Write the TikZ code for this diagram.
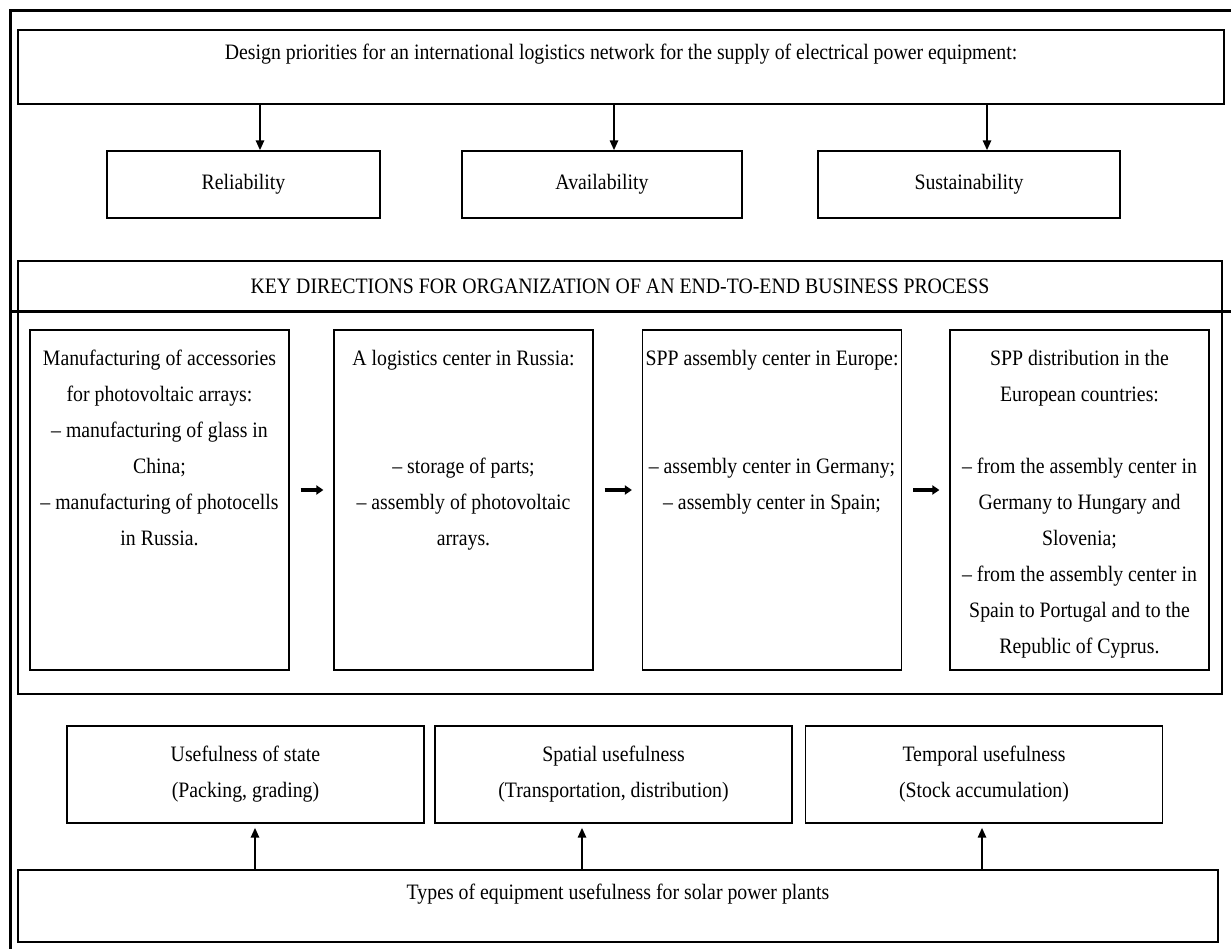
\documentclass[tikz,border=0pt]{standalone}
\usepackage{fontspec}
\setmainfont{Liberation Serif}[FakeStretch=0.9]
\usetikzlibrary{arrows.meta,positioning}

\newcommand{\stagetext}[1]{\parbox[t][340pt][t]{259pt}{\centering\vspace*{10pt}\strut#1}}

\begin{document}
\begin{tikzpicture}[
    x=1pt, y=-1pt,
    every node/.style={draw, fill=white, inner sep=0, line width=1.2pt, font=\fontsize{22}{36}\selectfont},
    prio/.style={minimum height=67pt},
    stage/.style={minimum width=259pt, minimum height=340pt},
    useful/.style={minimum width=357pt, minimum height=97pt, align=center},
    varrow/.style={line width=2.6pt, -{Triangle[length=10pt,width=8pt]}},
    harrow/.style={line width=3.5pt, -{Triangle[length=7pt,width=9pt]}, shorten <=11pt, shorten >=10pt}
  ]
  \useasboundingbox (0,0) rectangle (1231,949);

  \node[minimum width=1206pt, text height=30pt, text depth=44pt] (top) at (621,67)
    {Design priorities for an international logistics network for the supply of electrical power equipment:};

  \node[prio, minimum width=273pt] (rel) at (243.5,184.5) {Reliability};
  \node[prio, minimum width=280pt] (ava) at (602,184.5) {Availability};
  \node[prio, minimum width=302pt] (sus) at (969,184.5) {Sustainability};

  \draw[varrow] ([xshift=16.5pt]rel.north |- top.south) -- ([xshift=16.5pt]rel.north);
  \draw[varrow] ([xshift=12pt]ava.north |- top.south) -- ([xshift=12pt]ava.north);
  \draw[varrow] ([xshift=18pt]sus.north |- top.south) -- ([xshift=18pt]sus.north);

  \node[minimum width=1204pt, minimum height=51pt] (key) at (620,286.5)
    {KEY DIRECTIONS FOR ORGANIZATION OF AN END-TO-END BUSINESS PROCESS};

  \node[minimum width=1204pt, minimum height=382pt] (chain) at (620,503) {};

  \node[stage] (s1) at (159.5,500) {\stagetext{Manufacturing of accessories\\
    for photovoltaic arrays:\\ – manufacturing of glass in\\ China;\\
    – manufacturing of photocells\\ in Russia.}};
  \node[stage] (s2) at (463.5,500) {\stagetext{A logistics center in Russia:\\[72pt]
    – storage of parts;\\ – assembly of photovoltaic\\ arrays.}};
  \node[stage] (s3) at (772,500) {\stagetext{SPP assembly center in Europe:\\[72pt]
    – assembly center in Germany;\\ – assembly center in Spain;}};
  \node[stage] (s4) at (1079.5,500) {\stagetext{SPP distribution in the\\
    European countries:\\[36pt] – from the assembly center in\\ Germany to Hungary and\\
    Slovenia;\\ – from the assembly center in\\ Spain to Portugal and to the\\
    Republic of Cyprus.}};

  \draw[harrow] ([yshift=10pt]s1.east) -- ([yshift=10pt]s2.west);
  \draw[harrow] ([yshift=10pt]s2.east) -- ([yshift=10pt]s3.west);
  \draw[harrow] ([yshift=10pt]s3.east) -- ([yshift=10pt]s4.west);

  \node[useful] (u1) at (245.5,774.5) {Usefulness of state\\(Packing, grading)};
  \node[useful] (u2) at (613.5,774.5) {Spatial usefulness\\(Transportation, distribution)};
  \node[useful] (u3) at (984,774.5) {Temporal usefulness\\(Stock accumulation)};

  \node[minimum width=1200pt, text height=29pt, text depth=43pt] (types) at (618,906)
    {Types of equipment usefulness for solar power plants};

  \draw[varrow, shorten >=4pt] ([xshift=9.5pt]u1.south |- types.north) -- ([xshift=9.5pt]u1.south);
  \draw[varrow, shorten >=4pt] ([xshift=-31.5pt]u2.south |- types.north) -- ([xshift=-31.5pt]u2.south);
  \draw[varrow, shorten >=4pt] ([xshift=-2pt]u3.south |- types.north) -- ([xshift=-2pt]u3.south);

  % outer frame
  \draw[line width=3pt] (10,949) -- (10,11) -- (1231,11);
  \draw[line width=3pt] (10,312) -- (1231,312);
\end{tikzpicture}
\end{document}
